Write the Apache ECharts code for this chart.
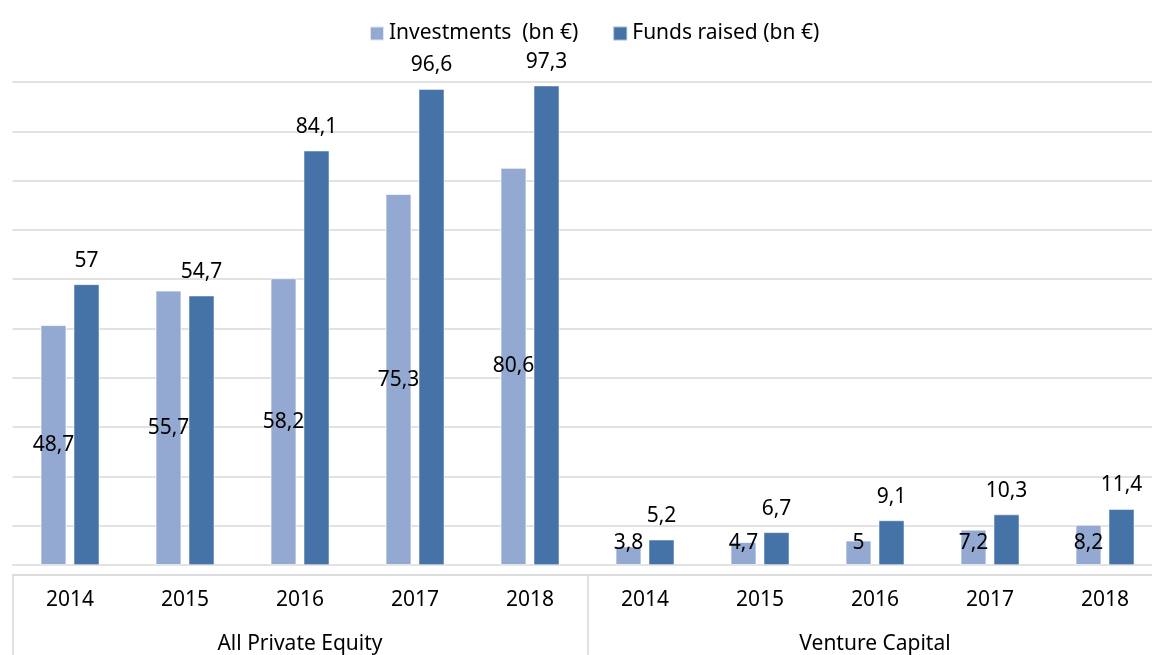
<!DOCTYPE html>
<html>
<head>
<meta charset="utf-8">
<script src="https://cdn.jsdelivr.net/npm/echarts@6/dist/echarts.min.js"></script>
<style>
  html, body { margin: 0; padding: 0; background: #fff; }
  #chart { width: 1152px; height: 655px; }
</style>
</head>
<body>
<div id="chart"></div>
<script>
// data
const years = ['2014', '2015', '2016', '2017', '2018', '2014', '2015', '2016', '2017', '2018']
const groups = ['All Private Equity', 'Venture Capital']
const investments = [48.7, 55.7, 58.2, 75.3, 80.6, 3.8, 4.7, 5, 7.2, 8.2]
const fundsRaised = [57, 54.7, 84.1, 96.6, 97.3, 5.2, 6.7, 9.1, 10.3, 11.4]

const font = 'Noto Sans'
const fs = 21
const gridColor = '#d9d9d9'

function comma (v) {
  return String(v).replace('.', ',')
}

let myChart = echarts.init(document.getElementById('chart'))

// PE labels sit in the middle of the bar, VC ones near the bottom
let invData = investments.map((v, i) => {
  if (i < 5) return { value: v, label: { position: 'inside' } }
  return { value: v, label: { position: 'insideBottom', distance: 12 } }
})

myChart.setOption({
  animation: false,
  textStyle: { fontFamily: font },
  legend: {
    left: 364,
    top: 18,
    itemWidth: 14,
    itemHeight: 14,
    itemGap: 34,
    icon: 'rect',
    textStyle: { fontSize: fs, color: '#000', fontFamily: font }
  },
  grid: {
    left: 12.5,
    width: 1150,
    top: 82,
    bottom: 80,
    outerBoundsMode: 'none',
    containLabel: false
  },
  xAxis: [
    {
      type: 'category',
      data: years,
      position: 'bottom',
      axisLine: { onZero: true, lineStyle: { color: gridColor, width: 1.5 } },
      axisTick: { show: false },
      axisLabel: { margin: 15, fontSize: fs, color: '#000', fontFamily: font }
    },
    {
      type: 'category',
      data: groups,
      position: 'bottom',
      axisLine: { onZero: false, lineStyle: { color: gridColor, width: 1.5 } },
      axisTick: { show: true, length: 80, interval: 0, lineStyle: { color: gridColor, width: 1.5 } },
      axisLabel: { margin: 59, fontSize: fs, color: '#000', fontFamily: font }
    }
  ],
  yAxis: {
    type: 'value',
    min: -2,
    max: 98,
    interval: 10,
    axisLine: { show: false },
    axisTick: { show: false },
    axisLabel: { show: false },
    splitLine: { lineStyle: { color: gridColor, width: 1.5 } }
  },
  series: [
    {
      name: 'Investments  (bn €)',
      type: 'bar',
      data: invData,
      barWidth: 26,
      barGap: '27%',
      itemStyle: { color: '#94a9d1', borderColor: 'rgba(255,255,255,0.7)', borderWidth: 1 },
      label: {
        show: true,
        fontSize: fs,
        color: '#000',
        fontFamily: font,
        formatter: p => comma(p.value)
      }
    },
    {
      name: 'Funds raised (bn €)',
      type: 'bar',
      data: fundsRaised,
      barWidth: 26,
      itemStyle: { color: '#4573a7', borderColor: 'rgba(255,255,255,0.5)', borderWidth: 1 },
      label: {
        show: true,
        position: 'top',
        distance: 13,
        fontSize: fs,
        color: '#000',
        fontFamily: font,
        formatter: p => comma(p.value)
      }
    }
  ]
})
</script>
</body>
</html>
